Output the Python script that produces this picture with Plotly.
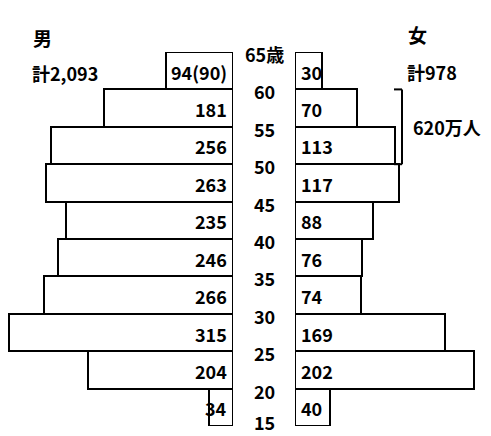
import plotly.graph_objects as go

# Data (ages 15-19 ... 60-64), in 万人
age_mid = [17.5, 22.5, 27.5, 32.5, 37.5, 42.5, 47.5, 52.5, 57.5, 62.5]
male = [34, 204, 315, 266, 246, 235, 263, 256, 181, 94]
female = [40, 202, 169, 74, 76, 88, 117, 113, 70, 30]
male_labels = ["34", "204", "315", "266", "246", "235", "263", "256", "181", "94(90)"]
female_labels = ["40", "202", "169", "74", "76", "88", "117", "113", "70", "30"]
age_ticks = [15, 20, 25, 30, 35, 40, 45, 50, 55, 60, 65]
age_tick_labels = ["15", "20", "25", "30", "35", "40", "45", "50", "55", "60", "65歳"]
male_total = "計2,093"
female_total = "計978"
bracket_note = "620万人"

W, H = 491, 436
FONT = "Noto Sans CJK JP"
TXT = dict(size=18, family=FONT, color="black", weight="bold")

fig = go.Figure()
bar_style = dict(orientation="h", width=5, marker=dict(color="white", line=dict(color="black", width=2)),
                 hoverinfo="skip", showlegend=False)
fig.add_trace(go.Bar(x=male, y=age_mid, xaxis="x", yaxis="y", **bar_style))
fig.add_trace(go.Bar(x=female, y=age_mid, xaxis="x2", yaxis="y", **bar_style))

ann = []
for y, t in zip(age_mid, male_labels):
    ann.append(dict(x=0, y=y, xref="x", yref="y", text=t, showarrow=False, xanchor="right",
                    xshift=-4, yshift=-1, font=TXT))
for y, t in zip(age_mid, female_labels):
    ann.append(dict(x=0, y=y, xref="x2", yref="y", text=t, showarrow=False, xanchor="left",
                    xshift=4, yshift=-1, font=TXT))
for a, t in zip(age_ticks, age_tick_labels):
    if a == age_ticks[0]:
        ann.append(dict(x=264 / W, y=0, xref="paper", yref="paper", text=t, showarrow=False,
                        xanchor="center", yanchor="bottom", yshift=-1, font=TXT))
    else:
        ann.append(dict(x=264 / W, y=a, xref="paper", yref="y", text=t, showarrow=False, xanchor="center",
                        yshift=-2, font=TXT))

ann += [
    dict(x=31 / W, y=1 - 22 / H, xref="paper", yref="paper", text="男", showarrow=False, xanchor="left",
         font=dict(TXT, size=19)),
    dict(x=30 / W, y=1 - 58 / H, xref="paper", yref="paper", text=male_total, showarrow=False, xanchor="left",
         font=TXT),
    dict(x=406 / W, y=1 - 19 / H, xref="paper", yref="paper", text="女", showarrow=False, xanchor="left",
         font=dict(TXT, size=19)),
    dict(x=405 / W, y=1 - 57 / H, xref="paper", yref="paper", text=female_total, showarrow=False, xanchor="left",
         font=TXT),
    dict(x=411 / W, y=55, xref="paper", yref="y", text=bracket_note, showarrow=False, xanchor="left",
         font=TXT),
]

shapes = [
    dict(type="line", xref="paper", yref="y", x0=402 / W, x1=402 / W, y0=50, y1=60,
         line=dict(color="black", width=2)),
    dict(type="line", xref="paper", yref="y", x0=394 / W, x1=402 / W, y0=60, y1=60,
         line=dict(color="black", width=2)),
    dict(type="line", xref="paper", yref="y", x0=394 / W, x1=402 / W, y0=50, y1=50,
         line=dict(color="black", width=2)),
]

fig.update_layout(
    width=W, height=H,
    margin=dict(l=0, r=0, t=0, b=0),
    paper_bgcolor="white", plot_bgcolor="white",
    bargap=0,
    xaxis=dict(domain=[0, 233 / W], range=[328, 0], visible=False, fixedrange=True),
    xaxis2=dict(domain=[295 / W, 1], range=[0, 221], visible=False, fixedrange=True),
    yaxis=dict(domain=[(H - 426) / H, (H - 52) / H], range=[15, 65], visible=False, fixedrange=True),
    annotations=ann,
    shapes=shapes,
    font=dict(family=FONT),
)

fig.write_html("out.html", config={"displayModeBar": False},
               post_script="document.body.style.margin='0';document.body.style.overflow='hidden';")
